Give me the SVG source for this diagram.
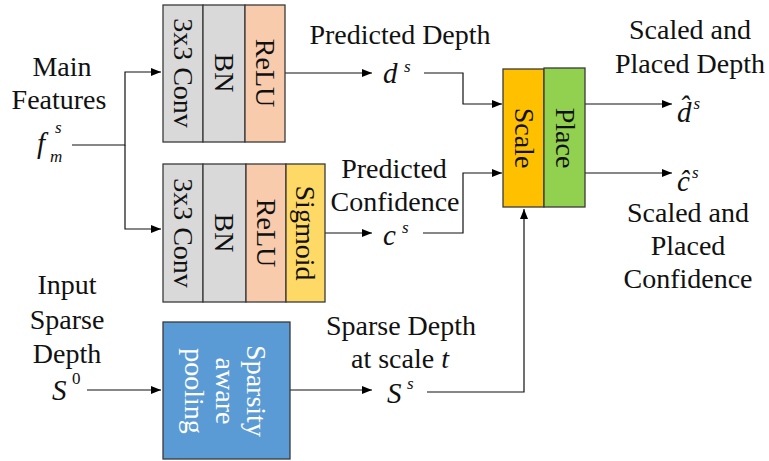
<svg xmlns="http://www.w3.org/2000/svg" width="769" height="461" viewBox="0 0 769 461">
  <defs>
    <marker id="arrow" viewBox="0 0 10 10" refX="10" refY="5" markerWidth="10" markerHeight="10" markerUnits="userSpaceOnUse" orient="auto">
      <path d="M0,1 L10,5 L0,9 Z" fill="#000"/>
    </marker>
    <style>
      text { font-family: "Liberation Serif", "Times New Roman", serif; fill: #111; }
      .lbl { font-size: 28px; text-anchor: middle; }
      .blk { font-size: 28px; text-anchor: middle; dominant-baseline: central; }
      .wht { fill: #fff; }
      .m { font-style: italic; font-size: 29px; }
      .sup { font-style: italic; font-size: 17px; }
      .box { stroke: #3a3a3a; stroke-width: 1.3; }
      .wire { fill: none; stroke: #111; stroke-width: 1.2; }
      .gray { fill: #D9D9D9; }
      .salmon { fill: #F8CBAD; }
      .yellow { fill: #FFD966; }
      .blue { fill: #5B9BD5; }
      .orange { fill: #FFC000; }
      .green { fill: #92D050; }
    </style>
  </defs>

  <!-- connectors -->
  <g id="connectors">
    <path class="wire" d="M72,145 H125 V72 H161" marker-end="url(#arrow)"/>
    <path class="wire" d="M125,145 V229 H161" marker-end="url(#arrow)"/>
    <path class="wire" d="M285,73 H372" marker-end="url(#arrow)"/>
    <path class="wire" d="M424,73 H463 V104 H502" marker-end="url(#arrow)"/>
    <path class="wire" d="M325,233 H372" marker-end="url(#arrow)"/>
    <path class="wire" d="M423,233 H463 V173 H502" marker-end="url(#arrow)"/>
    <path class="wire" d="M87,390 H161" marker-end="url(#arrow)"/>
    <path class="wire" d="M290,390 H372" marker-end="url(#arrow)"/>
    <path class="wire" d="M427,392 H524 V209" marker-end="url(#arrow)"/>
    <path class="wire" d="M585,104 H672" marker-end="url(#arrow)"/>
    <path class="wire" d="M585,173 H672" marker-end="url(#arrow)"/>
  </g>

  <!-- depth head: conv / bn / relu -->
  <g id="depth-head">
    <rect class="box gray" x="163" y="5" width="40" height="137"/>
    <rect class="box gray" x="203" y="5" width="42" height="137"/>
    <rect class="box salmon" x="245" y="5" width="40" height="137"/>
    <text class="blk" transform="translate(183,73) rotate(90)">3x3 Conv</text>
    <text class="blk" transform="translate(224,73) rotate(90)">BN</text>
    <text class="blk" transform="translate(265,73) rotate(90)">ReLU</text>
  </g>

  <!-- confidence head: conv / bn / relu / sigmoid -->
  <g id="confidence-head">
    <rect class="box gray" x="163" y="164" width="40" height="138"/>
    <rect class="box gray" x="203" y="164" width="43" height="138"/>
    <rect class="box salmon" x="246" y="164" width="40" height="138"/>
    <rect class="box yellow" x="286" y="164" width="39" height="138"/>
    <text class="blk" transform="translate(183,233) rotate(90)">3x3 Conv</text>
    <text class="blk" transform="translate(224,233) rotate(90)">BN</text>
    <text class="blk" transform="translate(266,233) rotate(90)">ReLU</text>
    <text class="blk" transform="translate(305,233) rotate(90)">Sigmoid</text>
  </g>

  <!-- sparsity aware pooling -->
  <g id="pooling">
    <rect class="box blue" x="163" y="322" width="127" height="137"/>
    <text class="blk wht" transform="translate(256,391) rotate(90)">Sparsity</text>
    <text class="blk wht" transform="translate(225,391) rotate(90)">aware</text>
    <text class="blk wht" transform="translate(194,391) rotate(90)">pooling</text>
  </g>

  <!-- scale and place -->
  <g id="scale-place">
    <rect class="box orange" x="503" y="69" width="41" height="138"/>
    <rect class="box green" x="544" y="68" width="41" height="139"/>
    <text class="blk" transform="translate(524,138) rotate(90)">Scale</text>
    <text class="blk" transform="translate(565,138) rotate(90)">Place</text>
  </g>

  <!-- main features input -->
  <g id="main-features">
    <text class="lbl" x="62" y="76">Main</text>
    <text class="lbl" x="59" y="109">Features</text>
    <text class="m" x="37" y="153">f</text>
    <text class="sup" x="55" y="133">s</text>
    <text class="sup" x="50" y="162">m</text>
  </g>

  <!-- predicted depth -->
  <g id="predicted-depth">
    <text class="lbl" x="400" y="44">Predicted Depth</text>
    <text class="m" x="383" y="83">d</text>
    <text class="sup" x="404" y="72">s</text>
  </g>

  <!-- predicted confidence -->
  <g id="predicted-confidence">
    <text class="lbl" x="394" y="178">Predicted</text>
    <text class="lbl" x="395" y="211">Confidence</text>
    <text class="m" x="383" y="245">c</text>
    <text class="sup" x="402" y="233">s</text>
  </g>

  <!-- sparse depth input -->
  <g id="input-sparse">
    <text class="lbl" x="67" y="294">Input</text>
    <text class="lbl" x="67" y="329">Sparse</text>
    <text class="lbl" x="67" y="363">Depth</text>
    <text class="m" x="52" y="400">S</text>
    <text class="sup" x="72" y="384" style="font-style:normal">0</text>
  </g>

  <!-- sparse depth at scale -->
  <g id="sparse-scaled">
    <text class="lbl" x="401" y="335">Sparse Depth</text>
    <text class="lbl" x="400" y="368">at scale <tspan font-style="italic">t</tspan></text>
    <text class="m" x="387" y="403">S</text>
    <text class="sup" x="407" y="389">s</text>
  </g>

  <!-- scaled and placed depth -->
  <g id="out-depth">
    <text class="lbl" x="690" y="39">Scaled and</text>
    <text class="lbl" x="690" y="73">Placed Depth</text>
    <text class="m" x="677" y="122">d&#x302;<tspan class="sup" dx="2" dy="-13">s</tspan></text>
  </g>

  <!-- scaled and placed confidence -->
  <g id="out-confidence">
    <text class="m" x="677" y="191">c&#x302;<tspan class="sup" dx="2" dy="-13">s</tspan></text>
    <text class="lbl" x="688" y="222">Scaled and</text>
    <text class="lbl" x="688" y="255">Placed</text>
    <text class="lbl" x="688" y="288">Confidence</text>
  </g>
</svg>
